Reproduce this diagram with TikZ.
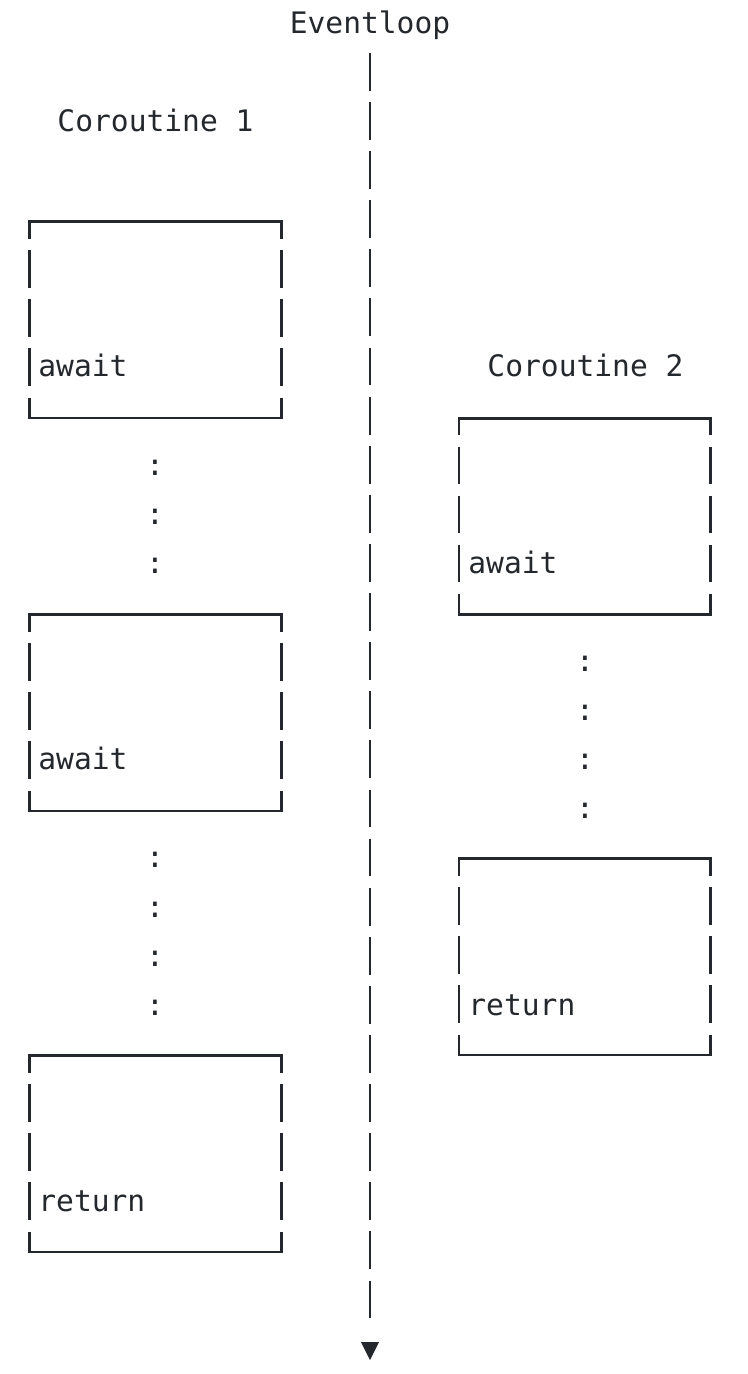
\documentclass[tikz,border=0pt]{standalone}
\usepackage{fontspec}
\setmonofont{DejaVu Sans Mono}
\usetikzlibrary{arrows.meta}
\definecolor{inchiostro}{RGB}{36,40,44}

\begin{document}
\begin{tikzpicture}[x=0.5pt, y=-0.5pt,
    testo/.style={font=\ttfamily\fontsize{14.8pt}{17pt}\selectfont, text=inchiostro, inner sep=0pt, text height=1.07em, text depth=0pt},
    blocco/.style={minimum width=125.5pt, minimum height=97.7pt, inner sep=0pt},
    bordo/.style={draw=inchiostro, line width=1.4pt, line cap=rect},
    lato/.style={draw=inchiostro, line width=1.4pt, dash pattern=on 18.8pt off 5.75pt, dash phase=10.3pt},
    ciclo/.style={draw=inchiostro, line width=1.4pt, dash pattern=on 18.9pt off 5.65pt}]
              \fill[white] (0,0) rectangle (748,1374);
              \useasboundingbox (0,0) rectangle (748,1374);

              \node [testo] (ciclo) at (370, 22.5) {Eventloop};
              \node [testo] (coroutine1) at (155.5, 120.7) {Coroutine 1};
              \node [testo] (coroutine2) at (585.5, 366.2) {Coroutine 2};

              \node [blocco] (blocco1) at (155.5, 319.8) {};
              \node [blocco] (blocco2) at (155.5, 712.8) {};
              \node [blocco] (blocco3) at (155.5, 1153.8) {};
              \node [blocco] (blocco4) at (584.8, 516.2) {};
              \node [blocco] (blocco5) at (584.8, 956.8) {};

              \node [testo, anchor=west] (attesa1) at (38, 366.2) {await};
              \node [testo, anchor=west] (attesa2) at (38, 759) {await};
              \node [testo, anchor=west] (ritorno1) at (38, 1200.9) {return};
              \node [testo, anchor=west] (attesa3) at (468, 562.6) {await};
              \node [testo, anchor=west] (ritorno2) at (468, 1004.5) {return};

              \node [testo] (puntini1) at (155, 464.4) {:};
              \node [testo] (puntini2) at (155, 513.5) {:};
              \node [testo] (puntini3) at (155, 562.6) {:};
              \node [testo] (puntini4) at (155, 857.2) {:};
              \node [testo] (puntini5) at (155, 906.3) {:};
              \node [testo] (puntini6) at (155, 955.4) {:};
              \node [testo] (puntini7) at (155, 1004.5) {:};
              \node [testo] (puntini8) at (585, 660.8) {:};
              \node [testo] (puntini9) at (585, 709.9) {:};
              \node [testo] (puntini10) at (585, 759) {:};
              \node [testo] (puntini11) at (585, 808.1) {:};

              \coordinate (inizio) at (370, 53);
              \coordinate (fine) at (370, 1320);
              \coordinate (punta) at (370, 1360);

              \draw [ciclo] (inizio) -- (fine);
              \fill [inchiostro] (punta) -- ++(-9,-18) -- ++(18,0) -- cycle;

              \draw [bordo] (blocco1.north west) -- (blocco1.north east);
              \draw [bordo] (blocco1.south west) -- (blocco1.south east);
              \draw [lato] (blocco1.north west) -- (blocco1.south west);
              \draw [lato] (blocco1.north east) -- (blocco1.south east);
              \draw [bordo] (blocco2.north west) -- (blocco2.north east);
              \draw [bordo] (blocco2.south west) -- (blocco2.south east);
              \draw [lato] (blocco2.north west) -- (blocco2.south west);
              \draw [lato] (blocco2.north east) -- (blocco2.south east);
              \draw [bordo] (blocco3.north west) -- (blocco3.north east);
              \draw [bordo] (blocco3.south west) -- (blocco3.south east);
              \draw [lato] (blocco3.north west) -- (blocco3.south west);
              \draw [lato] (blocco3.north east) -- (blocco3.south east);
              \draw [bordo] (blocco4.north west) -- (blocco4.north east);
              \draw [bordo] (blocco4.south west) -- (blocco4.south east);
              \draw [lato] (blocco4.north west) -- (blocco4.south west);
              \draw [lato] (blocco4.north east) -- (blocco4.south east);
              \draw [bordo] (blocco5.north west) -- (blocco5.north east);
              \draw [bordo] (blocco5.south west) -- (blocco5.south east);
              \draw [lato] (blocco5.north west) -- (blocco5.south west);
              \draw [lato] (blocco5.north east) -- (blocco5.south east);

            \end{tikzpicture}
\end{document}
